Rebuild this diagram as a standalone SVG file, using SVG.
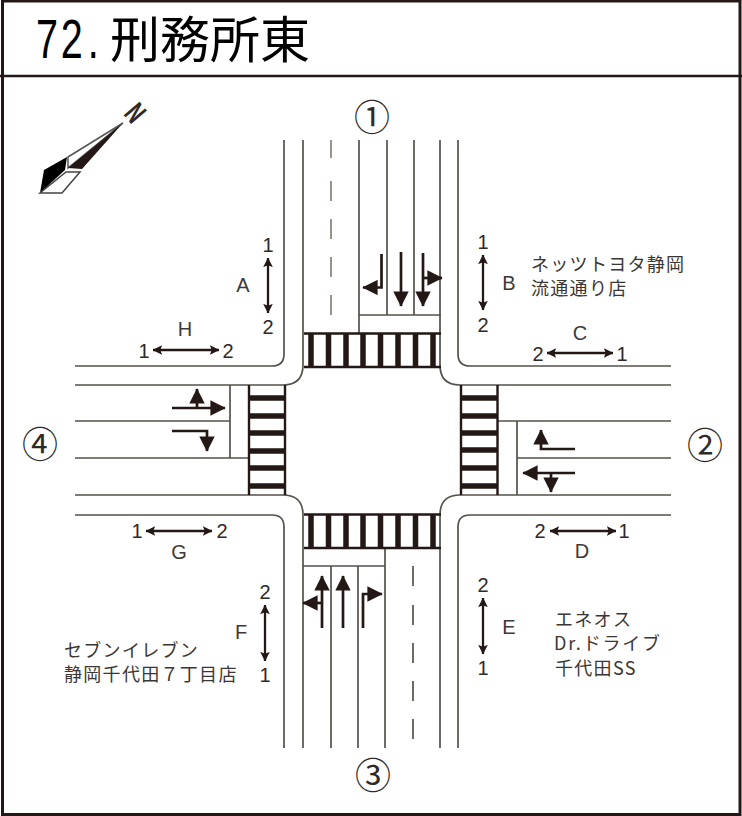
<svg xmlns="http://www.w3.org/2000/svg" width="742" height="816" viewBox="0 0 742 816">
<defs>
<marker id="h" viewBox="0 0 10 10" refX="9.500" refY="5" markerWidth="5.700" markerHeight="5.700" markerUnits="strokeWidth" orient="auto"><path d="M0 0L10 5L0 10Z" fill="#231815"/></marker>
<marker id="d" viewBox="0 0 10 10" refX="9.500" refY="5" markerWidth="4.200" markerHeight="4.200" markerUnits="strokeWidth" orient="auto-start-reverse"><path d="M0 0L10 5L0 10L2 5Z" fill="#231815"/></marker>
</defs>
<style>
text{font-family:"Liberation Sans",sans-serif;fill:#2e2a28}
.j{font-family:"Noto Sans CJK JP",sans-serif}
.n{font-size:20px;text-anchor:middle}
.l{font-size:20px;text-anchor:middle;fill:#3c3a38}
.c{font-family:"Noto Sans CJK JP",sans-serif;font-size:36px;text-anchor:middle}
.s{font-family:"Noto Sans CJK JP",sans-serif;font-size:18px;letter-spacing:1.300px;fill:#3a3634}
.r{fill:none;stroke:#55524c;stroke-width:1.700}
.t{fill:none;stroke:#231815;stroke-width:2.400}
.z{fill:none;stroke:#231815;stroke-width:5.500}
.a{fill:none;stroke:#231815;stroke-width:2.700;marker-end:url(#h)}
.b{fill:none;stroke:#231815;stroke-width:2.300;marker-start:url(#d);marker-end:url(#d)}
</style>
<rect width="742" height="816" fill="#fff"/>
<g id="frame"><rect x="2.500" y="1" width="737.500" height="813.500" fill="none" stroke="#231815" stroke-width="3"/><path d="M0 76H742" fill="none" stroke="#231815" stroke-width="2.500"/></g>
<g id="title">
<text transform="scale(.72 1)" y="58" font-size="55" x="50 84.500 122" style="fill:#000">72.</text>
<text class="j" x="110" y="58" font-size="50" style="fill:#000">刑務所東</text>
</g>
<g id="connectors">
<path class="r" d="M284 140V354Q284 366 272 366H75M303 140V365Q303 385 283 385H75M458 140V354Q458 366 470 366H671M440 140V365Q440 385 460 385H671M75 515H272Q284 515 284 527V748M75 495H283Q303 495 303 515V748M671 515H470Q458 515 458 527V748M671 495H460Q440 495 440 515V748"/>
<path class="r" d="M359 140V333M387 140V315M414 140V315M359 315H441M331 566V748M358 566V748M385 548V748M303 566H385M75 421H230M75 458H248M230 385V458M497 421H671M517 458H671M517 421V495"/>
<path class="r" style="stroke:#8a7f7c" d="M331 140V158M331 181V201M331 219V239M331 257V277M331 295V315"/>
<path class="r" d="M413 566V586M413 605V625M413 643V663M413 681V701M413 719V739"/>
<path class="t" d="M304 333.500H441M304 367H441M304 514.500H441M304 548H441M249 385V495M285 385V495M461 385V495M497.500 385V495"/>
<path class="z" d="M311 333V367M328.500 333V367M346 333V367M363 333V367M380.500 333V367M398 333V367M415.500 333V367M433 333V367M311 515V548M328.500 515V548M346 515V548M363 515V548M380.500 515V548M398 515V548M415.500 515V548M433 515V548M249 398H285M249 416H285M249 433H285M249 451H285M249 468H285M249 486H285M461 398H497M461 416H497M461 433H497M461 450H497M461 468H497M461 486H497"/>
<path class="a" d="M381.500 254V287.500H363"/><path class="a" d="M401 252V306"/><path class="a" d="M423 253V306"/><path class="a" d="M423 278H442"/>
<path class="a" d="M172 408H225"/><path class="a" d="M197 408V389"/><path class="a" d="M172 431H207V451"/>
<path class="a" d="M575 449H541V430"/><path class="a" d="M575 473H523"/><path class="a" d="M551 473V492"/>
<path class="a" d="M322 628V576"/><path class="a" d="M322 603H303"/><path class="a" d="M343 628V576"/><path class="a" d="M363 628V594H382"/>
<path class="b" d="M268 258V313"/><path class="b" d="M483 255V310"/><path class="b" d="M153 350H219"/><path class="b" d="M547 353H613"/><path class="b" d="M146 531H212"/><path class="b" d="M550 531H616"/><path class="b" d="M265 605V661"/><path class="b" d="M483 598V654"/>
</g>
<g id="compass"><path d="M44 170L67 157L65 170L40 193Z" fill="#000"/><path d="M40 193L62 193L80 172L66 172Z" fill="#fff" stroke="#444" stroke-width="1.500"/><path d="M68 157L123 123L68 168Z" fill="#fff" stroke="#555" stroke-width="1.500"/><path d="M68 168L123 123L82 169Z" fill="#231815"/><text transform="translate(135 113) rotate(50) scale(.72 1)" y="10" class="j" font-size="28" font-weight="700" text-anchor="middle">N</text></g>
<g id="n1"><text x="372" y="131" class="c">①</text></g>
<g id="n2"><text x="705" y="459" class="c">②</text></g>
<g id="n3"><text x="373" y="789" class="c">③</text></g>
<g id="n4"><text x="40" y="458" class="c">④</text></g>
<g id="labels">
<text x="268" y="252" class="n">1</text><text x="268" y="334" class="n">2</text><text x="483" y="249" class="n">1</text><text x="483" y="332" class="n">2</text>
<text x="144" y="358" class="n">1</text><text x="228" y="358" class="n">2</text><text x="538" y="361" class="n">2</text><text x="622" y="361" class="n">1</text>
<text x="137" y="538" class="n">1</text><text x="222" y="538" class="n">2</text><text x="540" y="538" class="n">2</text><text x="624" y="538" class="n">1</text>
<text x="265" y="599" class="n">2</text><text x="265" y="682" class="n">1</text><text x="483" y="592" class="n">2</text><text x="483" y="675" class="n">1</text>
<text x="243" y="292" class="l">A</text><text x="509" y="290" class="l">B</text><text x="580" y="340" class="l">C</text><text x="582" y="558" class="l">D</text><text x="509" y="634" class="l">E</text><text x="241" y="639" class="l">F</text><text x="179" y="559" class="l">G</text><text x="185" y="336" class="l">H</text>
<text x="531" y="271" class="s">ネッツトヨタ静岡</text><text x="531" y="295" class="s">流通通り店</text>
<text x="555" y="626" class="s">エネオス</text><text x="554" y="650" class="s" style="letter-spacing:1.800px">Dr.ドライブ</text><text x="555" y="674.500" class="s">千代田SS</text>
<text x="64" y="657" class="s">セブンイレブン</text><text x="64" y="681" class="s">静岡千代田７丁目店</text>
</g>
</svg>
